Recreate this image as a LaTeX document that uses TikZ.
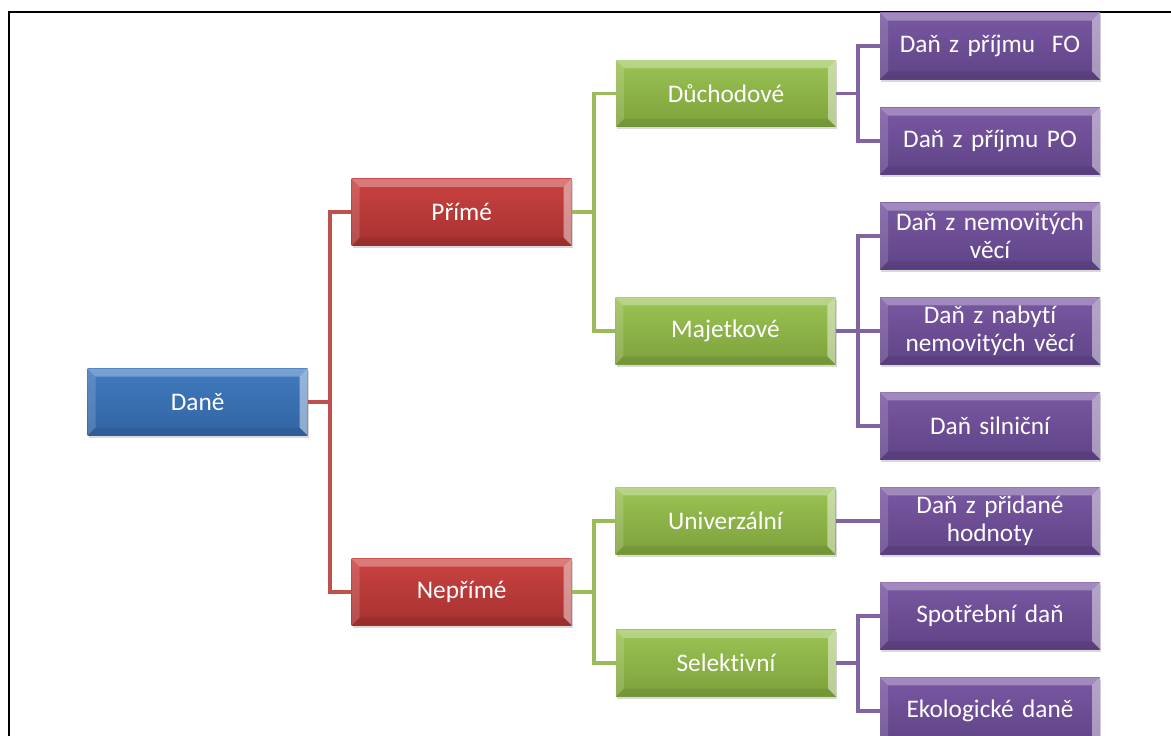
\documentclass[tikz,border=0pt]{standalone}
\usepackage{fontspec}
\setmainfont[Ligatures=NoCommon]{Carlito}
\usepackage{xcolor}
\usepackage{tikz}
\usetikzlibrary{positioning, calc, shadows}
\definecolor{taxblue}{HTML}{407ABF}
\definecolor{taxbluedark}{HTML}{3264A3}
\definecolor{taxred}{HTML}{CA4341}
\definecolor{taxreddark}{HTML}{A63130}
\definecolor{taxgreen}{HTML}{9BC354}
\definecolor{taxgreendark}{HTML}{7DA13B}
\definecolor{taxpurple}{HTML}{7958A2}
\definecolor{taxpurpledark}{HTML}{604387}
\definecolor{redline}{HTML}{C0504D}
\definecolor{greenline}{HTML}{9BBB59}
\definecolor{purpleline}{HTML}{8064A2}
\tikzset{
  bevel/.style={path picture={
    \coordinate (bnw) at (path picture bounding box.north west);
    \coordinate (bne) at (path picture bounding box.north east);
    \coordinate (bsw) at (path picture bounding box.south west);
    \coordinate (bse) at (path picture bounding box.south east);
    \fill[white, opacity=.30] (bnw) -- (bne) -- ([shift={(-2mm,-2mm)}]bne) -- ([shift={(2mm,-2mm)}]bnw) -- cycle;
    \fill[white, opacity=.15] (bnw) -- ([shift={(2mm,-2mm)}]bnw) -- ([shift={(2mm,2mm)}]bsw) -- (bsw) -- cycle;
    \fill[white, opacity=.45] (bne) -- ([shift={(-2mm,-2mm)}]bne) -- ([shift={(-2mm,2mm)}]bse) -- (bse) -- cycle;
    \fill[black, opacity=.08] (bsw) -- (bse) -- ([shift={(-2mm,2mm)}]bse) -- ([shift={(2mm,2mm)}]bsw) -- cycle;
  }},
  taxbox/.style={rectangle, minimum width=55mm, minimum height=16.7mm, text width=53mm, align=center, inner sep=0pt, text=white, font=\fontsize{18}{19.6}\selectfont, drop shadow={shadow xshift=.3mm, shadow yshift=-.6mm, opacity=.3}, bevel},
  rootbox/.style={taxbox, top color=taxblue, bottom color=taxbluedark},
  kindbox/.style={taxbox, top color=taxred, bottom color=taxreddark},
  groupbox/.style={taxbox, top color=taxgreen, bottom color=taxgreendark},
  leafbox/.style={taxbox, top color=taxpurple, bottom color=taxpurpledark},
  redlink/.style={line width=2.8pt, draw=redline},
  greenlink/.style={line width=2.8pt, draw=greenline},
  purplelink/.style={line width=2.8pt, draw=purpleline},
}

\begin{document}
\begin{tikzpicture}[node distance=6.9mm and 11mm]
  \useasboundingbox (0,0) rectangle (29.275,-18.375);
  \clip (0,0) rectangle (29.275,-18.375);
  % Frame round the chart
  \draw[line width=1.8pt] (0.225,-0.3) rectangle (30,-19);

  % Single taxes (right column)
  \node[leafbox] (dfo) at (24.75,-1.15) {Daň z příjmu\ \ FO};
  \node[leafbox, below=of dfo] (dpo) {Daň z příjmu PO};
  \node[leafbox, below=of dpo] (dnemo) {Daň z nemovitých\\věcí};
  \node[leafbox, below=of dnemo] (dnaby) {Daň z nabytí\\nemovitých věcí};
  \node[leafbox, below=of dnaby] (dsil) {Daň silniční};
  \node[leafbox, below=of dsil] (ddph) {Daň z přidané\\hodnoty};
  \node[leafbox, below=of ddph] (dspot) {Spotřební daň};
  \node[leafbox, below=of dspot] (dekol) {Ekologické daně};

  % Groups
  \node[groupbox] (duch) at ($(dfo)!0.5!(dpo)+(-6.6,0)$) {Důchodové};
  \node[groupbox, left=of dnaby] (majet) {Majetkové};
  \node[groupbox, left=of ddph] (univ) {Univerzální};
  \node[groupbox] (selek) at ($(dspot)!0.5!(dekol)+(-6.6,0)$) {Selektivní};

  % Direct / indirect
  \node[kindbox] (prime) at ($(duch)!0.5!(majet)+(-6.6,0)$) {Přímé};
  \node[kindbox] (neprime) at ($(univ)!0.5!(selek)+(-6.6,0)$) {Nepřímé};

  % Root
  \node[rootbox] (dane) at ($(prime)!0.5!(neprime)+(-6.6,0)$) {Daně};

  % Edges
  \draw[redlink] (dane.east) -- ++(5.5mm,0) |- (prime.west);
  \draw[redlink] (dane.east) -- ++(5.5mm,0) |- (neprime.west);
  \draw[greenlink] (prime.east) -- ++(5.5mm,0) |- (duch.west);
  \draw[greenlink] (prime.east) -- ++(5.5mm,0) |- (majet.west);
  \draw[greenlink] (neprime.east) -- ++(5.5mm,0) |- (univ.west);
  \draw[greenlink] (neprime.east) -- ++(5.5mm,0) |- (selek.west);
  \draw[purplelink] (duch.east) -- ++(5.5mm,0) |- (dfo.west);
  \draw[purplelink] (duch.east) -- ++(5.5mm,0) |- (dpo.west);
  \draw[purplelink] (majet.east) -- ++(5.5mm,0) |- (dnemo.west);
  \draw[purplelink] (majet.east) -- (dnaby.west);
  \draw[purplelink] (majet.east) -- ++(5.5mm,0) |- (dsil.west);
  \draw[purplelink] (univ.east) -- (ddph.west);
  \draw[purplelink] (selek.east) -- ++(5.5mm,0) |- (dspot.west);
  \draw[purplelink] (selek.east) -- ++(5.5mm,0) |- (dekol.west);
\end{tikzpicture}
\end{document}
